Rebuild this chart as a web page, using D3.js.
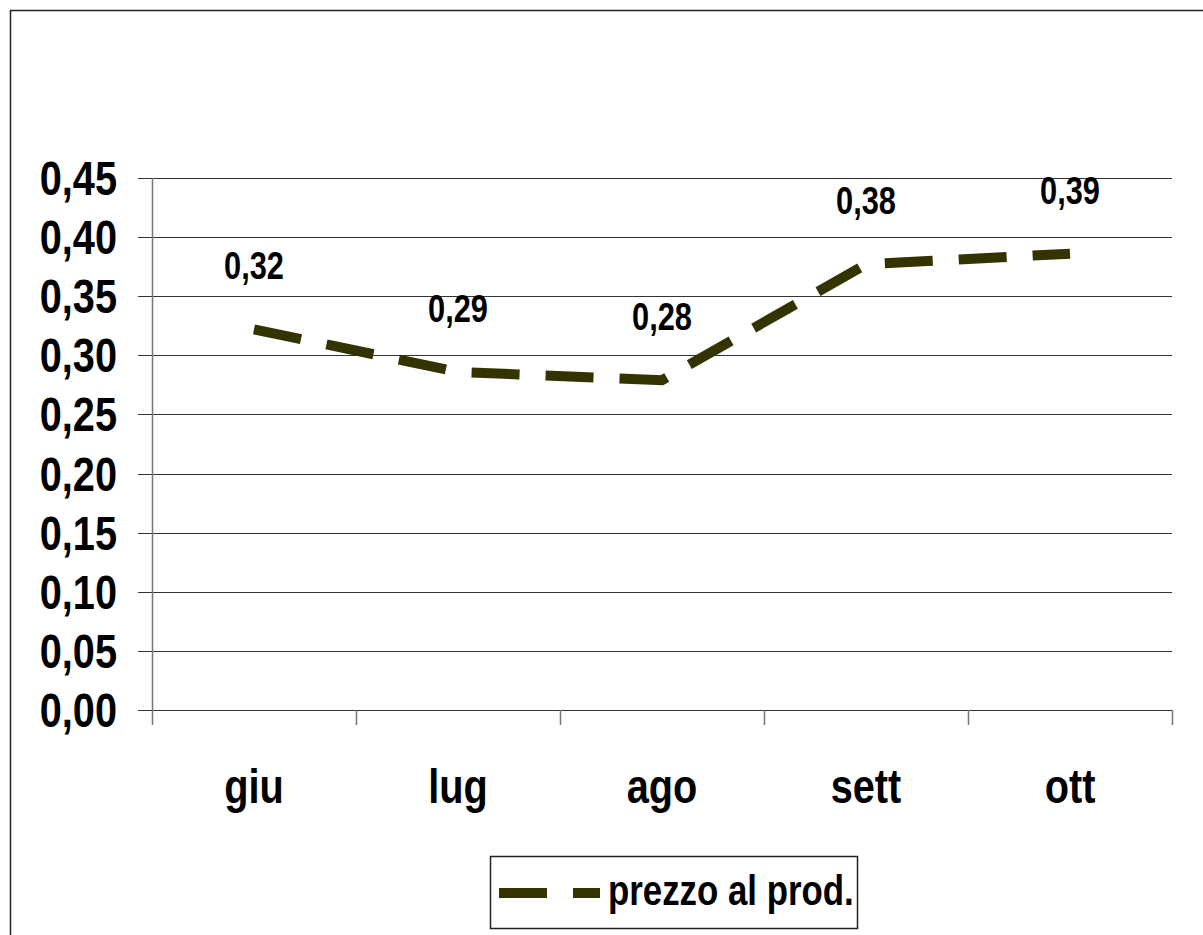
<!DOCTYPE html>
<html>
<head>
<meta charset="utf-8">
<script src="https://cdn.jsdelivr.net/npm/d3@7"></script>
<style>
  body { margin: 0; background: #fff; }
  text { font-family: "Liberation Sans Narrow", "Arial Narrow", "Liberation Sans", sans-serif; font-weight: bold; fill: #000; }
</style>
</head>
<body>
<svg id="s" width="1203" height="935"></svg>
<script>
const months = ['giu', 'lug', 'ago', 'sett', 'ott'];
const prezzo = [0.322, 0.286, 0.279, 0.377, 0.386];
const yTicks = [0, 0.05, 0.10, 0.15, 0.20, 0.25, 0.30, 0.35, 0.40, 0.45];
const seriesName = 'prezzo al prod.';

const lineColor = '#333300';
const narrow = 0.81; // no narrow font installed, squeeze the regular one
const fmt = v => v.toFixed(2).replace('.', ',');
const place = (px, py) => `translate(${px},${py}) scale(${narrow},1)`;

const svg = d3.select('#s');

// outer frame, cut off on the right and bottom
svg.append('rect')
  .attr('x', 10.5).attr('y', 10.5)
  .attr('width', 1300).attr('height', 1000)
  .attr('fill', 'none').attr('stroke', '#222').attr('stroke-width', 1.5);

const x = d3.scaleBand().domain(months).range([152, 1172]);
const y = d3.scaleLinear().domain([0, 0.45]).range([710, 178]);
const cx = m => x(m) + x.bandwidth() / 2;

// gridlines
svg.append('g')
  .selectAll('line')
  .data(yTicks)
  .join('line')
  .attr('x1', 138).attr('x2', 1172)
  .attr('y1', d => Math.round(y(d)) + 0.5).attr('y2', d => Math.round(y(d)) + 0.5)
  .attr('stroke', '#333').attr('stroke-width', 1);

// y axis line
svg.append('line')
  .attr('x1', 152.5).attr('x2', 152.5)
  .attr('y1', 178).attr('y2', 710)
  .attr('stroke', '#777').attr('stroke-width', 1.5);

// x ticks
const xTickPos = months.map(m => x(m)).concat([x.range()[1]]);
svg.append('g')
  .selectAll('line')
  .data(xTickPos)
  .join('line')
  .attr('x1', d => Math.round(d) + 0.5).attr('x2', d => Math.round(d) + 0.5)
  .attr('y1', 710).attr('y2', 725)
  .attr('stroke', '#777').attr('stroke-width', 1.5);

// y tick labels
svg.append('g')
  .selectAll('text')
  .data(yTicks)
  .join('text')
  .attr('transform', d => place(117, y(d) + 17))
  .attr('text-anchor', 'end')
  .attr('font-size', 49)
  .text(fmt);

// x labels
svg.append('g')
  .selectAll('text')
  .data(months)
  .join('text')
  .attr('transform', d => place(cx(d), 803))
  .attr('text-anchor', 'middle')
  .attr('font-size', 49)
  .text(d => d);

// the series line
const line = d3.line()
  .x((d, i) => cx(months[i]))
  .y(d => y(d));

svg.append('path')
  .datum(prezzo)
  .attr('d', line)
  .attr('fill', 'none')
  .attr('stroke', lineColor)
  .attr('stroke-width', 10)
  .attr('stroke-dasharray', '48 26');

// data labels
svg.append('g')
  .selectAll('text')
  .data(prezzo)
  .join('text')
  .attr('transform', (d, i) => place(cx(months[i]), y(d) - 50))
  .attr('text-anchor', 'middle')
  .attr('font-size', 38)
  .text(fmt);

// legend
const lg = svg.append('g');
lg.append('rect')
  .attr('x', 490.5).attr('y', 856.5)
  .attr('width', 367).attr('height', 72)
  .attr('fill', '#fff').attr('stroke', '#222').attr('stroke-width', 1.5);
lg.append('line')
  .attr('x1', 499).attr('x2', 600)
  .attr('y1', 893).attr('y2', 893)
  .attr('stroke', lineColor).attr('stroke-width', 10)
  .attr('stroke-dasharray', '48 26');
lg.append('text')
  .attr('transform', place(608, 905))
  .attr('font-size', 43)
  .text(seriesName);
</script>
</body>
</html>
